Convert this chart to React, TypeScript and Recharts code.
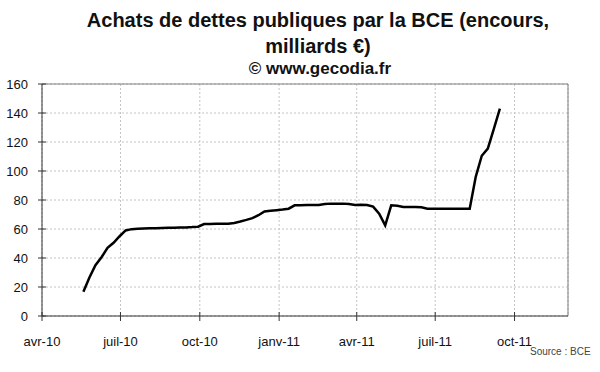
import React from 'react'
import { LineChart, Line, XAxis, YAxis, CartesianGrid, ReferenceLine } from 'recharts'

// weekly dates (SMP holdings)
const dates = [
  '2010-05-19', '2010-05-26', '2010-06-02', '2010-06-09', '2010-06-16', '2010-06-23', '2010-06-30',
  '2010-07-07', '2010-07-14', '2010-07-21', '2010-07-28', '2010-08-04', '2010-08-11', '2010-08-18',
  '2010-08-25', '2010-09-01', '2010-09-08', '2010-09-15', '2010-09-22', '2010-09-29', '2010-10-06',
  '2010-10-13', '2010-10-20', '2010-10-27', '2010-11-03', '2010-11-10', '2010-11-17', '2010-11-24',
  '2010-12-01', '2010-12-08', '2010-12-15', '2010-12-22', '2010-12-29', '2011-01-05', '2011-01-12',
  '2011-01-19', '2011-01-26', '2011-02-02', '2011-02-09', '2011-02-16', '2011-02-23', '2011-03-02',
  '2011-03-09', '2011-03-16', '2011-03-23', '2011-03-30', '2011-04-06', '2011-04-13', '2011-04-20',
  '2011-04-27', '2011-05-04', '2011-05-11', '2011-05-18', '2011-05-25', '2011-06-01', '2011-06-08',
  '2011-06-15', '2011-06-22', '2011-06-29', '2011-07-06', '2011-07-13', '2011-07-20', '2011-07-27',
  '2011-08-03', '2011-08-10', '2011-08-17', '2011-08-24', '2011-08-31', '2011-09-07', '2011-09-14',
]

// encours, milliards €
const holdings = [
  16.8, 26.5, 35, 40.5, 47, 50.5, 55,
  59, 59.9, 60.2, 60.4, 60.5, 60.6, 60.7,
  60.8, 60.8, 61.0, 61.1, 61.3, 61.6, 63.4,
  63.5, 63.6, 63.6, 63.7, 64.2, 65.2, 66.3,
  67.5, 69.5, 72.1, 72.6, 73.0, 73.4, 74.0,
  76.3, 76.4, 76.5, 76.5, 76.6, 77.2, 77.5,
  77.5, 77.5, 77.3, 76.5, 76.7, 76.6, 75.4,
  70.5, 62.5, 76.3, 76.0, 75.2, 75.2, 75.2,
  75.0, 74.0, 74.0, 74.0, 74.0, 74.0, 74.0,
  74.0, 74.0, 96.0, 110.5, 115.5, 129.0, 143.0,
]

const tickDates = ['2010-04-01', '2010-07-01', '2010-10-01', '2011-01-01', '2011-04-01', '2011-07-01', '2011-10-01']
const tickLabels = ['avr-10', 'juil-10', 'oct-10', 'janv-11', 'avr-11', 'juil-11', 'oct-11']
const yTicks = [0, 20, 40, 60, 80, 100, 120, 140, 160]

const START = Date.UTC(2010, 3, 1)
const END_DAY = 610 // ~ 2 déc. 2011

const dayOf = (s: string) => {
  const [y, m, d] = s.split('-').map(Number)
  return Math.round((Date.UTC(y, m - 1, d) - START) / 86400000)
}

const data = dates.map((d, i) => ({ day: dayOf(d), value: holdings[i] }))
const xTicks = tickDates.map(dayOf)

const font = '"Liberation Sans", Arial, sans-serif'
const AXIS_X = 42
const AXIS_Y = 316

const XTick = (props: any) => {
  const { x, payload } = props
  const idx = xTicks.indexOf(payload.value)
  return (
    <g>
      <line x1={x} x2={x} y1={AXIS_Y - 4} y2={AXIS_Y + 5} stroke="#333" />
      <text x={x} y={346} textAnchor="middle" fontSize={13} fontFamily={font} fill="#111">
        {tickLabels[idx]}
      </text>
    </g>
  )
}

const YTick = (props: any) => {
  const { y, payload } = props
  return (
    <g>
      <line x1={AXIS_X - 4} x2={AXIS_X + 4} y1={y} y2={y} stroke="#333" />
      <text x={28} y={y} dy="0.36em" textAnchor="end" fontSize={13} fontFamily={font} fill="#111">
        {payload.value}
      </text>
    </g>
  )
}

export default function App() {
  return (
    <div style={{ position: 'absolute', left: 0, top: 0, width: 600, height: 372, background: '#fff' }}>
      <div style={{ position: 'absolute', left: 18, top: 10.4, width: 600, textAlign: 'center', fontFamily: font, fontWeight: 'bold', fontSize: 20, lineHeight: '20px', color: '#111', whiteSpace: 'nowrap' }}>
        Achats de dettes publiques par la BCE (encours,
      </div>
      <div style={{ position: 'absolute', left: 18, top: 35.8, width: 600, textAlign: 'center', fontFamily: font, fontWeight: 'bold', fontSize: 20, lineHeight: '20px', color: '#111' }}>
        milliards €)
      </div>
      <div style={{ position: 'absolute', left: 20, top: 59.6, width: 600, textAlign: 'center', fontFamily: font, fontWeight: 'bold', fontSize: 17, lineHeight: '17px', color: '#111' }}>
        © www.gecodia.fr
      </div>
      <LineChart width={600} height={372} data={data} margin={{ top: 84, right: 32, bottom: 0, left: 0 }}>
        <CartesianGrid stroke="#c4c4c4" strokeDasharray="2 2" />
        <XAxis
          dataKey="day"
          type="number"
          domain={[0, END_DAY]}
          ticks={xTicks}
          interval={0}
          height={56}
          axisLine={{ stroke: '#333' }}
          tickLine={false}
          tick={<XTick />}
        />
        <YAxis
          width={42}
          domain={[0, 160]}
          ticks={yTicks}
          interval={0}
          axisLine={{ stroke: '#333' }}
          tickLine={false}
          tick={<YTick />}
        />
        <ReferenceLine y={160} stroke="#808080" />
        <ReferenceLine x={END_DAY} stroke="#808080" />
        <Line
          type="linear"
          dataKey="value"
          stroke="#000"
          strokeWidth={2.5}
          dot={false}
          isAnimationActive={false}
        />
      </LineChart>
      <div style={{ position: 'absolute', left: 530, top: 346.5, fontFamily: font, fontSize: 10, lineHeight: '10px', color: '#444', whiteSpace: 'nowrap' }}>
        Source : BCE
      </div>
    </div>
  )
}
